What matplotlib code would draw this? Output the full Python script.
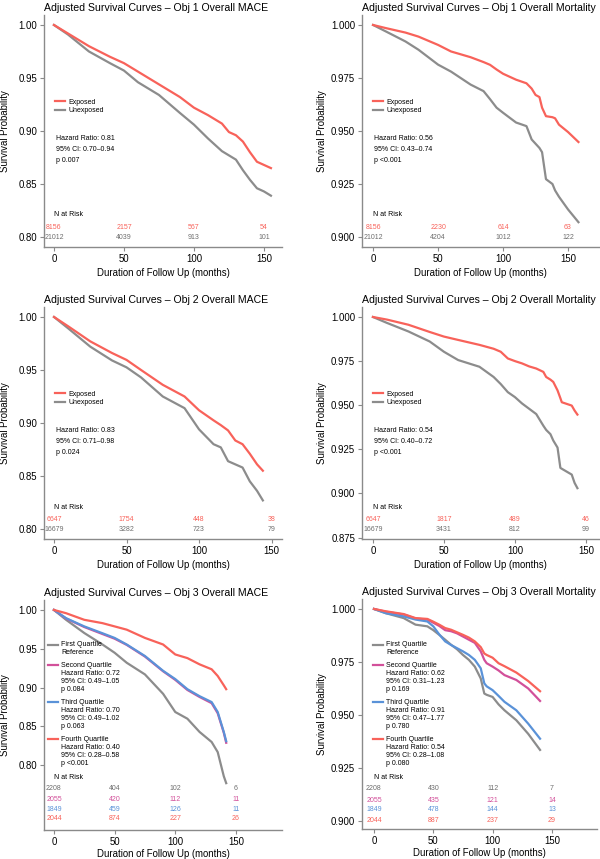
import numpy as np
import matplotlib
matplotlib.use("Agg")
import matplotlib.pyplot as plt
from matplotlib.legend_handler import HandlerLine2D

plt.rcParams['font.family'] = ['Liberation Sans', 'DejaVu Sans']

# ---------------- data ----------------
# Obj 1 Overall MACE
t_1m = [0, 10, 25, 40, 50, 60, 75, 90, 100, 110, 120, 125, 130, 135, 140, 145, 150, 155]
exp_1m = [1.0, 0.992, 0.980, 0.970, 0.964, 0.956, 0.944, 0.932, 0.922, 0.915, 0.907, 0.899, 0.896, 0.890, 0.880, 0.871, 0.868, 0.865]
unexp_1m = [1.0, 0.991, 0.975, 0.964, 0.957, 0.946, 0.934, 0.917, 0.906, 0.893, 0.881, 0.877, 0.873, 0.863, 0.854, 0.846, 0.843, 0.839]
risk_exp_1m = ["8156", "2157", "567", "54"]
risk_unexp_1m = ["21012", "4039", "913", "101"]
stats_1m = "Hazard Ratio: 0.81\n95% CI: 0.70\u20130.94\np 0.007"

# Obj 1 Overall Mortality
t_1d = [0, 10, 25, 35, 50, 60, 75, 85, 90, 95, 100, 110, 118, 122, 125, 128, 130, 133, 138, 140, 143, 150, 158]
exp_1d = [1.0, 0.9985, 0.9964, 0.9945, 0.9906, 0.9875, 0.9848, 0.9825, 0.9812, 0.979, 0.977, 0.9742, 0.9725, 0.970,
          0.967, 0.966, 0.961, 0.957, 0.9565, 0.956, 0.953, 0.9495, 0.9448]
unexp_1d = [1.0, 0.9969, 0.9922, 0.9883, 0.9813, 0.978, 0.9719, 0.9688, 0.965, 0.961, 0.9586, 0.954, 0.9523, 0.946,
            0.944, 0.942, 0.940, 0.9273, 0.925, 0.922, 0.919, 0.913, 0.907]
risk_exp_1d = ["8156", "2230", "614", "63"]
risk_unexp_1d = ["21012", "4204", "1012", "122"]
stats_1d = "Hazard Ratio: 0.56\n95% CI: 0.43\u20130.74\np <0.001"

# Obj 2 Overall MACE
t_2m = [0, 10, 25, 40, 50, 60, 75, 90, 100, 110, 115, 120, 125, 130, 135, 140, 144]
exp_2m = [1.0, 0.991, 0.977, 0.966, 0.9595, 0.950, 0.936, 0.925, 0.912, 0.9025, 0.898, 0.893, 0.8835, 0.880, 0.871, 0.861, 0.855]
unexp_2m = [1.0, 0.989, 0.972, 0.959, 0.9525, 0.943, 0.925, 0.914, 0.894, 0.880, 0.877, 0.864, 0.861, 0.858, 0.845, 0.836, 0.827]
risk_exp_2m = ["6647", "1754", "448", "38"]
risk_unexp_2m = ["16679", "3282", "723", "79"]
stats_2m = "Hazard Ratio: 0.83\n95% CI: 0.71\u20130.98\np 0.024"

# Obj 2 Overall Mortality
t_2d = [0, 10, 25, 40, 50, 60, 75, 85, 90, 95, 100, 105, 110, 115, 120, 122, 125, 127, 130, 132, 133, 140, 142, 144]
exp_2d = [1.0, 0.9985, 0.9956, 0.9915, 0.9889, 0.987, 0.9842, 0.982, 0.9803, 0.9765, 0.975, 0.9737, 0.972, 0.9708,
          0.9689, 0.966, 0.9645, 0.9632, 0.9584, 0.954, 0.9517, 0.9498, 0.947, 0.9447]
unexp_2d = [1.0, 0.9966, 0.9918, 0.9861, 0.9803, 0.9756, 0.9718, 0.966, 0.962, 0.9574, 0.9546, 0.951, 0.948, 0.945,
            0.9384, 0.936, 0.9336, 0.930, 0.926, 0.9145, 0.914, 0.9107, 0.906, 0.903]
risk_exp_2d = ["6647", "1817", "489", "46"]
risk_unexp_2d = ["16679", "3431", "812", "99"]
stats_2d = "Hazard Ratio: 0.54\n95% CI: 0.40\u20130.72\np <0.001"

# Obj 3 Overall MACE
t_3m = [0, 10, 25, 40, 50, 60, 75, 90, 100, 110, 120, 130, 135, 140, 142]
q1_3m = [1.0, 0.9873, 0.9703, 0.9555, 0.9449, 0.932, 0.917, 0.892, 0.8686, 0.860, 0.843, 0.830, 0.817, 0.786, 0.777]
q2_3m = [1.0, 0.989, 0.978, 0.969, 0.963, 0.955, 0.940, 0.921, 0.910, 0.897, 0.888, 0.880, 0.867, 0.842, 0.829]
q3_3m = [1.0, 0.9894, 0.9788, 0.970, 0.964, 0.9555, 0.9407, 0.9216, 0.911, 0.898, 0.889, 0.8814, 0.8686, 0.843, 0.831]
q4_3m = [1.0, 0.9958, 0.9873, 0.983, 0.9788, 0.9746, 0.964, 0.9555, 0.9427, 0.938, 0.930, 0.9236, 0.915, 0.903, 0.898]
risk_3m = [["2208", "404", "102", "6"],
           ["2055", "420", "112", "11"],
           ["1849", "459", "126", "11"],
           ["2044", "874", "227", "26"]]
labels_3m = ["First Quartile\nReference",
             "Second Quartile\nHazard Ratio: 0.72\n95% CI: 0.49\u20131.05\np 0.084",
             "Third Quartile\nHazard Ratio: 0.70\n95% CI: 0.49\u20131.02\np 0.063",
             "Fourth Quartile\nHazard Ratio: 0.40\n95% CI: 0.28\u20130.58\np <0.001"]

# Obj 3 Overall Mortality
t_3d = [0, 10, 25, 35, 45, 50, 55, 60, 65, 70, 75, 80, 85, 90, 93, 95, 100, 105, 110, 120, 130, 140]
q4_3d = [1.0, 0.9989, 0.9976, 0.9957, 0.9953, 0.994, 0.9926, 0.991, 0.9902, 0.989, 0.9878, 0.9865, 0.9847, 0.982,
         0.979, 0.9783, 0.977, 0.9744, 0.973, 0.970, 0.966, 0.9612]
q2_3d = [1.0, 0.9987, 0.9974, 0.9955, 0.995, 0.9935, 0.992, 0.990, 0.9895, 0.9885, 0.987, 0.9855, 0.984, 0.980,
         0.976, 0.9744, 0.9728, 0.971, 0.9688, 0.9665, 0.9625, 0.9566]
q3_3d = [1.0, 0.998, 0.9965, 0.995, 0.9941, 0.9918, 0.988, 0.9847, 0.983, 0.9815, 0.980, 0.9783, 0.976, 0.972,
         0.9649, 0.9635, 0.9617, 0.959, 0.9562, 0.9522, 0.9459, 0.9388]
q1_3d = [1.0, 0.998, 0.9957, 0.9926, 0.9918, 0.990, 0.9878, 0.9855, 0.9831, 0.981, 0.9783, 0.976, 0.9728, 0.9672,
         0.9601, 0.9595, 0.9585, 0.955, 0.9522, 0.9475, 0.9411, 0.9335]
risk_3d = [["2208", "430", "112", "7"],
           ["2055", "435", "121", "14"],
           ["1849", "478", "144", "13"],
           ["2044", "887", "237", "29"]]
labels_3d = ["First Quartile\nReference",
             "Second Quartile\nHazard Ratio: 0.62\n95% CI: 0.31\u20131.23\np 0.169",
             "Third Quartile\nHazard Ratio: 0.91\n95% CI: 0.47\u20131.77\np 0.780",
             "Fourth Quartile\nHazard Ratio: 0.54\n95% CI: 0.28\u20131.08\np 0.080"]

risk_times = [0, 50, 100, 150]
xticks = [0, 50, 100, 150]

# ---------------- style ----------------
RED = '#F8625A'
GREY = '#8C8C8C'
PINK = '#D2509A'
BLUE = '#5A92D8'
AXC = '#8A8A8A'
LW = 1.6
TICK_FS = 6.9
SMALL_FS = 5.0

W, H = 600, 859
fig = plt.figure(figsize=(W / 100, H / 100), dpi=100)


def add_ax(box):
    l, r, t, b = box
    return fig.add_axes([l / W, 1 - b / H, (r - l) / W, (b - t) / H])


def fr(box, px, py):
    l, r, t, b = box
    return (px - l) / (r - l), (b - py) / (b - t)


class TopHandler(HandlerLine2D):
    def __init__(self, nlines, **kw):
        super().__init__(**kw)
        self.nlines = nlines

    def create_artists(self, legend, orig_handle, xdescent, ydescent, width, height, fontsize, trans):
        arts = super().create_artists(legend, orig_handle, xdescent, ydescent, width, height, fontsize, trans)
        shift = (self.nlines - 1) / 2.0 * fontsize * 1.2
        for a in arts:
            a.set_ydata(np.asarray(a.get_ydata(), dtype=float) + shift)
        return arts


def style(ax, box, title, yticks, fmt, xlim, ylim, ylab_px, xlabpad=3):
    for s in ['top', 'right']:
        ax.spines[s].set_visible(False)
    for s in ['left', 'bottom']:
        ax.spines[s].set_color(AXC)
        ax.spines[s].set_linewidth(1.0)
    ax.set_xlim(*xlim)
    ax.set_ylim(*ylim)
    ax.set_xticks(xticks)
    ax.set_yticks(yticks)
    ax.set_yticklabels([fmt % v for v in yticks])
    ax.tick_params(axis='both', colors=AXC, labelcolor='black', labelsize=TICK_FS,
                   length=3, width=0.8, pad=2)
    ax.set_title(title, loc='left', fontsize=7.6, pad=3)
    ax.set_xlabel("Duration of Follow Up (months)", fontsize=TICK_FS, labelpad=xlabpad)
    ax.set_ylabel("Survival Probability", fontsize=TICK_FS)
    ax.yaxis.set_label_coords(fr(box, ylab_px, 0)[0], 0.5)


def two_group(box, title, t, exp, unexp, rexp, runexp, stats, yticks, fmt, xlim, ylim,
              ylab_px, leg_px, stats_px, risk_fr):
    ax = add_ax(box)
    style(ax, box, title, yticks, fmt, xlim, ylim, ylab_px)
    h2, = ax.plot(t, unexp, color=GREY, lw=LW, solid_joinstyle='round')
    h1, = ax.plot(t, exp, color=RED, lw=LW, solid_joinstyle='round')
    lx, ly = fr(box, leg_px[0], leg_px[1] - 4.5)
    ax.legend([h1, h2], ["Exposed", "Unexposed"], loc='upper left', bbox_to_anchor=(lx, ly),
              frameon=False, fontsize=SMALL_FS, handlelength=1.45, handletextpad=0.45,
              labelspacing=0.28, borderpad=0, borderaxespad=0)
    sx, sy = fr(box, stats_px[0], stats_px[1])
    ax.text(sx, sy, stats, transform=ax.transAxes, fontsize=SMALL_FS, va='top',
            ha='left', linespacing=1.85)
    tr = ax.get_xaxis_transform()
    ax.text(0, risk_fr[0], "N at Risk", transform=tr, fontsize=SMALL_FS, ha='left', va='center')
    for x, a, b in zip(risk_times, rexp, runexp):
        ax.text(x, risk_fr[1], a, transform=tr, fontsize=SMALL_FS, ha='center', va='center', color=RED)
        ax.text(x, risk_fr[2], b, transform=tr, fontsize=SMALL_FS, ha='center', va='center', color='#6E6E6E')
    return ax


def quartiles(box, title, t, series, risk, labels, yticks, fmt, xlim, ylim, ylab_px, leg_px, risk_fr):
    ax = add_ax(box)
    style(ax, box, title, yticks, fmt, xlim, ylim, ylab_px, xlabpad=1.2)
    cols = [GREY, PINK, BLUE, RED]
    handles = []
    for s, c in zip(series, cols):
        h, = ax.plot(t, s, color=c, lw=LW, solid_joinstyle='round')
        handles.append(h)
    hmap = {h: TopHandler(lab.count('\n') + 1) for h, lab in zip(handles, labels)}
    lx, ly = fr(box, leg_px[0], leg_px[1] - 4.5)
    ax.legend(handles, labels, loc='upper left', bbox_to_anchor=(lx, ly), handler_map=hmap,
              frameon=False, fontsize=SMALL_FS, handlelength=1.45, handletextpad=0.45,
              labelspacing=0.85, borderpad=0, borderaxespad=0)
    tr = ax.get_xaxis_transform()
    ax.text(0, risk_fr[0], "N at Risk", transform=tr, fontsize=SMALL_FS, ha='left', va='center')
    rcols = ['#6E6E6E', PINK, BLUE, RED]
    for row, c, yf in zip(risk, rcols, risk_fr[1:]):
        for x, v in zip(risk_times, row):
            ax.text(x, yf, v, transform=tr, fontsize=SMALL_FS, ha='center', va='center', color=c)
    return ax


yt_mace = [0.80, 0.85, 0.90, 0.95, 1.00]
yt_mort1 = [0.900, 0.925, 0.950, 0.975, 1.000]
yt_mort2 = [0.875, 0.900, 0.925, 0.950, 0.975, 1.000]

P1 = (44, 282, 15, 247)
P2 = (362, 599, 15, 247)
P3 = (44, 282, 307, 539)
P4 = (362, 599, 307, 539)
P5 = (44, 282, 600, 830)
P6 = (362, 597, 599, 829)

two_group(P1, "Adjusted Survival Curves \u2013 Obj 1 Overall MACE", t_1m, exp_1m, unexp_1m,
          risk_exp_1m, risk_unexp_1m, stats_1m, yt_mace, "%.2f", (-7.1, 162.9), (0.7906, 1.0094),
          10, (55, 103), (56, 135), (0.138, 0.086, 0.043))
two_group(P2, "Adjusted Survival Curves \u2013 Obj 1 Overall Mortality", t_1d, exp_1d, unexp_1d,
          risk_exp_1d, risk_unexp_1d, stats_1d, yt_mort1, "%.3f", (-8.5, 173.8), (0.8953, 1.0047),
          327, (373, 103), (374, 135), (0.138, 0.086, 0.043))
two_group(P3, "Adjusted Survival Curves \u2013 Obj 2 Overall MACE", t_2m, exp_2m, unexp_2m,
          risk_exp_2m, risk_unexp_2m, stats_2m, yt_mace, "%.2f", (-6.9, 157.2), (0.7906, 1.0094),
          10, (55, 395), (56, 427), (0.134, 0.086, 0.043))
two_group(P4, "Adjusted Survival Curves \u2013 Obj 2 Overall Mortality", t_2d, exp_2d, unexp_2d,
          risk_exp_2d, risk_unexp_2d, stats_2d, yt_mort2, "%.3f", (-7.7, 159.2), (0.8742, 1.00566),
          327, (373, 395), (374, 427), (0.134, 0.086, 0.043))
quartiles(P5, "Adjusted Survival Curves \u2013 Obj 3 Overall MACE", t_3m, [q1_3m, q2_3m, q3_3m, q4_3m],
          risk_3m, labels_3m, yt_mace, "%.2f", (-8.2, 188), (0.7167, 1.0128), 10, (48, 646),
          (0.229, 0.182, 0.134, 0.091, 0.048))
quartiles(P6, "Adjusted Survival Curves \u2013 Obj 3 Overall Mortality", t_3d, [q1_3d, q2_3d, q3_3d, q4_3d],
          risk_3d, labels_3d, yt_mort1, "%.3f", (-10.1, 188), (0.8962, 1.0047), 327, (373, 646),
          (0.222, 0.174, 0.126, 0.083, 0.039))

fig.savefig("out.png", dpi=100)
